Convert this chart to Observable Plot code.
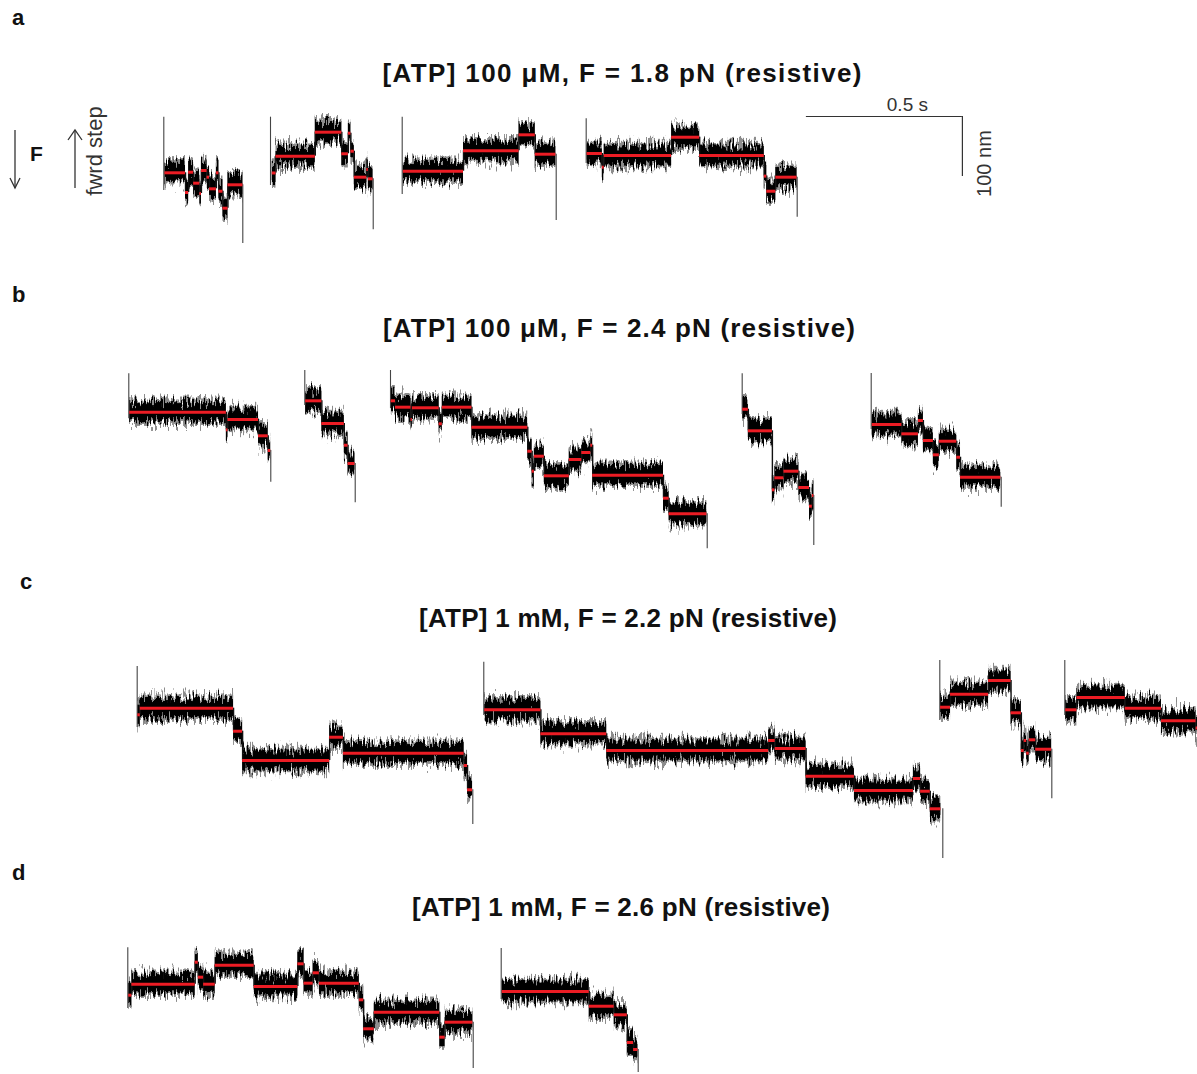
<!DOCTYPE html>
<html>
<head>
<meta charset="utf-8">
<script src="https://cdn.jsdelivr.net/npm/d3@7"></script>
<script src="https://cdn.jsdelivr.net/npm/@observablehq/plot@0.6"></script>
<style>
  body { margin: 0; background: #fff; }
  #fig { position: relative; width: 1197px; height: 1074px; overflow: hidden;
         font-family: "Liberation Sans", Arial, sans-serif; }
  .panel { position: absolute; left: 0; }
  #overlay { position: absolute; left: 0; top: 0; pointer-events: none; }
</style>
</head>
<body>
<!-- ragged-edge texture for the noise envelope of the traces -->
<svg width="0" height="0" style="position:absolute">
  <defs>
    <filter id="ragged" filterUnits="objectBoundingBox" x="-1%" y="-40%" width="102%" height="180%">
      <feTurbulence type="fractalNoise" baseFrequency="0.55 0.09" numOctaves="2" seed="7" result="tex"/>
      <feColorMatrix in="tex" type="matrix"
        values="1 0 0 0 0  0 0 0 0 0.5  0 0 0 0 0  0 0 0 0 1" result="shift"/>
      <feDisplacementMap in="SourceGraphic" in2="shift" scale="24"
        xChannelSelector="G" yChannelSelector="R"/>
    </filter>
  </defs>
</svg>
<div id="fig"></div>
<script>
// Optical-trap stepping records: fitted dwell levels [trace, t start (s), t end (s), position (nm)]
// Each panel shows several consecutive records placed side by side on a common time axis.

const stepsA = [
  [1, 0.527, 0.593, 129.5], [1, 0.593, 0.603, 96.7], [1, 0.603, 0.619, 130.5],
  [1, 0.619, 0.639, 112.2], [1, 0.639, 0.644, 95.0], [1, 0.644, 0.662, 133.3],
  [1, 0.662, 0.670, 122.2], [1, 0.670, 0.692, 102.8], [1, 0.692, 0.700, 129.5],
  [1, 0.700, 0.713, 98.8], [1, 0.713, 0.729, 70.5], [1, 0.729, 0.777, 109.5],
  [2, 0.871, 0.883, 129.2], [2, 0.883, 1.009, 157.2], [2, 1.009, 1.094, 197.2],
  [2, 1.094, 1.115, 161.2], [2, 1.115, 1.123, 195.5], [2, 1.123, 1.134, 165.5],
  [2, 1.134, 1.174, 122.2], [2, 1.174, 1.179, 135.0], [2, 1.179, 1.194, 119.5],
  [3, 1.291, 1.484, 132.2], [3, 1.484, 1.662, 166.2], [3, 1.662, 1.714, 192.8],
  [3, 1.714, 1.780, 160.5],
  [4, 1.880, 1.929, 161.7], [4, 1.929, 1.935, 138.8], [4, 1.935, 2.151, 158.3],
  [4, 2.151, 2.241, 188.8], [4, 2.241, 2.448, 158.3], [4, 2.448, 2.456, 124.0],
  [4, 2.456, 2.485, 98.8], [4, 2.485, 2.553, 122.2]
];
// Attachment / detachment excursions: [t (s), upper nm, lower nm]
const spikesA = [
  [0.5234, 222.2, 100.0], [0.7766, 109.5, 11.7],
  [0.8654, 222.2, 108.3], [1.1946, 119.5, 34.5],
  [1.2875, 222.2, 93.3], [1.7811, 160.5, 50.0],
  [1.8772, 219.5, 145.0], [2.5535, 122.2, 55.5]
];

const stepsB = [
  [1, 0.414, 0.724, 238.8], [1, 0.724, 0.729, 209.5], [1, 0.729, 0.827, 226.7],
  [1, 0.827, 0.858, 199.5], [1, 0.858, 0.866, 175.0],
  [2, 0.978, 1.030, 257.8], [2, 1.030, 1.102, 220.0], [2, 1.102, 1.114, 183.8],
  [2, 1.114, 1.136, 153.3],
  [3, 1.252, 1.266, 257.8], [3, 1.266, 1.316, 247.2], [3, 1.316, 1.320, 226.7],
  [3, 1.320, 1.406, 246.2], [3, 1.406, 1.416, 219.5], [3, 1.416, 1.511, 247.2],
  [3, 1.511, 1.690, 213.8], [3, 1.690, 1.704, 173.8], [3, 1.704, 1.711, 140.5],
  [3, 1.711, 1.743, 165.5], [3, 1.743, 1.823, 132.8], [3, 1.823, 1.863, 160.0],
  [3, 1.863, 1.892, 171.7], [3, 1.892, 1.898, 183.8], [3, 1.898, 2.125, 133.8],
  [3, 2.125, 2.143, 95.5], [3, 2.143, 2.264, 69.5],
  [4, 2.379, 2.397, 243.8], [4, 2.397, 2.474, 207.8], [4, 2.474, 2.482, 109.5],
  [4, 2.482, 2.511, 129.5], [4, 2.511, 2.559, 140.5], [4, 2.559, 2.593, 113.3],
  [4, 2.593, 2.602, 82.2], [4, 2.602, 2.607, 100.0],
  [5, 2.794, 2.889, 218.3], [5, 2.889, 2.942, 202.8], [5, 2.942, 2.958, 225.0],
  [5, 2.958, 2.990, 191.7], [5, 2.990, 3.009, 167.8], [5, 3.009, 3.065, 190.5],
  [5, 3.065, 3.077, 163.8], [5, 3.077, 3.206, 130.5]
];
const spikesB = [
  [0.4112, 302.8, 228.0], [0.8663, 175.0, 122.2],
  [0.9753, 308.3, 250.0], [1.1369, 153.3, 87.8],
  [1.2500, 308.3, 245.0], [2.2651, 69.5, 11.2],
  [2.3772, 302.8, 235.0], [2.6067, 100.0, 16.7],
  [2.7907, 303.3, 210.0], [3.2074, 130.5, 80.5]
];

const stepsC = [
  [1, 0.440, 0.448, 251.2], [1, 0.448, 0.747, 262.2], [1, 0.747, 0.776, 223.8],
  [1, 0.776, 1.055, 175.0], [1, 1.055, 1.099, 213.8], [1, 1.099, 1.486, 187.2],
  [1, 1.486, 1.497, 166.7], [1, 1.497, 1.513, 126.2],
  [2, 1.552, 1.732, 259.5], [2, 1.732, 1.943, 219.5], [2, 1.943, 2.462, 191.7],
  [2, 2.462, 2.483, 208.3], [2, 2.483, 2.582, 195.0], [2, 2.582, 2.737, 148.8],
  [2, 2.737, 2.926, 125.0], [2, 2.926, 2.949, 145.0], [2, 2.949, 2.980, 123.8],
  [2, 2.980, 3.014, 94.5],
  [3, 3.013, 3.045, 263.8], [3, 3.045, 3.167, 285.5], [3, 3.167, 3.239, 308.3],
  [3, 3.239, 3.272, 254.5], [3, 3.272, 3.281, 191.7], [3, 3.281, 3.289, 208.3],
  [3, 3.289, 3.297, 187.2], [3, 3.297, 3.318, 209.5], [3, 3.318, 3.369, 193.8],
  [4, 3.414, 3.450, 259.5], [4, 3.450, 3.605, 280.0], [4, 3.605, 3.721, 262.2],
  [4, 3.721, 3.832, 241.2], [4, 3.832, 3.860, 229.0]
];
const spikesC = [
  [0.4381, 331.7, 230.0], [1.5138, 126.2, 68.3],
  [1.5490, 338.8, 250.0], [3.0202, 94.5, 11.7],
  [3.0106, 341.7, 241.7], [3.3696, 193.8, 111.2],
  [3.4112, 341.7, 250.0]
];

const stepsD = [
  [1, 0.411, 0.421, 132.2], [1, 0.421, 0.624, 150.5], [1, 0.624, 0.634, 187.2],
  [1, 0.634, 0.651, 162.2], [1, 0.651, 0.688, 150.5], [1, 0.688, 0.813, 182.2],
  [1, 0.813, 0.953, 146.7], [1, 0.953, 0.973, 184.5], [1, 0.973, 1.002, 152.2],
  [1, 1.002, 1.022, 169.5], [1, 1.022, 1.150, 152.2], [1, 1.150, 1.164, 124.5],
  [1, 1.164, 1.198, 76.2], [1, 1.198, 1.408, 103.8], [1, 1.408, 1.425, 62.2],
  [1, 1.425, 1.514, 87.2],
  [2, 1.608, 1.887, 138.3], [2, 1.887, 1.967, 113.8], [2, 1.967, 2.009, 99.5],
  [2, 2.009, 2.029, 53.3], [2, 2.029, 2.043, 41.7]
];
const spikesD = [
  [0.4080, 211.2, 110.0], [1.5151, 87.2, 10.0],
  [1.6048, 210.0, 125.0], [2.0439, 41.7, 3.3]
];

// Thermal noise envelope around each dwell (nm): dense core, outer fringe
const noiseNm = [16, 22];

// Scale bar: corner time (s), corner position (nm), lengths
const scaleBar = [{t: 3.083, nm: 223.3, dt: 0.5, dnm: 100}];

const titles = [
  "[ATP] 100 \u03bcM, F = 1.8 pN (resistive)",
  "[ATP] 100 \u03bcM, F = 2.4 pN (resistive)",
  "[ATP] 1 mM, F = 2.2 pN (resistive)",
  "[ATP] 1 mM, F = 2.6 pN (resistive)"
];
const letters = ["a", "b", "c", "d"];

// ---- layout ----
const W = 1197;
const PX_PER_S = 312;   // horizontal: 0.5 s = 156 px
const PX_PER_NM = 0.6;  // vertical: 100 nm = 60 px
const FONT = '"Liberation Sans", Arial, sans-serif';
const RED = "#ec1c24";

const panels = [
  {steps: stepsA, spikes: spikesA, top: 100, height: 150, bar: true},
  {steps: stepsB, spikes: spikesB, top: 360, height: 195},
  {steps: stepsC, spikes: spikesC, top: 650, height: 215},
  {steps: stepsD, spikes: spikesD, top: 935, height: 139}
];

const fig = document.getElementById("fig");

function connectors(steps) {
  const out = [];
  for (let i = 0; i + 1 < steps.length; i++) {
    const a = steps[i], b = steps[i + 1];
    if (a[0] === b[0]) out.push([a[2], a[3], b[3]]);
  }
  return out;
}

for (const p of panels) {
  const band = (n, op) => Plot.rect(p.steps, {
    x1: d => d[1], x2: d => d[2],
    y1: d => d[3] - n, y2: d => d[3] + n,
    fill: "#000", fillOpacity: op, clip: true
  });
  const marks = [
    band(noiseNm[1], 0.45),
    band(noiseNm[0], 1),
    Plot.ruleX(connectors(p.steps), {x: d => d[0], y1: d => d[1], y2: d => d[2],
      stroke: "#111", strokeWidth: 1.4, clip: true}),
    Plot.ruleX(p.spikes, {x: d => d[0], y1: d => d[1], y2: d => d[2],
      stroke: "#444", strokeWidth: 1.1, clip: true}),
    Plot.ruleY(p.steps, {y: d => d[3], x1: d => d[1], x2: d => d[2],
      stroke: RED, strokeWidth: 3, clip: true})
  ];
  if (p.bar) {
    marks.push(
      Plot.ruleY(scaleBar, {y: "nm", x1: d => d.t - d.dt, x2: "t", stroke: "#333", strokeWidth: 1.2}),
      Plot.ruleX(scaleBar, {x: "t", y1: "nm", y2: d => d.nm - d.dnm, stroke: "#333", strokeWidth: 1.2}),
      Plot.text(scaleBar, {x: d => d.t - d.dt / 2, y: "nm", text: d => `${d.dt} s`,
        dx: 23, dy: -6, lineAnchor: "bottom", fontSize: 19, fill: "#333"}),
      Plot.text(scaleBar, {x: "t", y: d => d.nm - d.dnm / 2, text: d => `${d.dnm} nm`,
        dx: 29, dy: 17, rotate: -90, lineAnchor: "bottom", fontSize: 20, fill: "#333"})
    );
  }
  const svg = Plot.plot({
    width: W, height: p.height, margin: 0,
    x: {domain: [0, W / PX_PER_S], axis: null},
    y: {domain: [0, p.height / PX_PER_NM], axis: null},
    style: {fontFamily: FONT, background: "transparent", overflow: "visible"},
    marks
  });
  // give the noise envelope its ragged, spiky edge
  svg.querySelectorAll('g[aria-label="rect"]').forEach(g => g.setAttribute("filter", "url(#ragged)"));
  svg.classList.add("panel");
  svg.style.top = p.top + "px";
  fig.appendChild(svg);
}

// ---- titles, panel letters and direction key ----
const ns = "http://www.w3.org/2000/svg";
const ov = document.createElementNS(ns, "svg");
ov.setAttribute("id", "overlay");
ov.setAttribute("width", W);
ov.setAttribute("height", 1074);
ov.setAttribute("font-family", FONT);
fig.appendChild(ov);

function el(tag, attrs, text) {
  const e = document.createElementNS(ns, tag);
  for (const k in attrs) e.setAttribute(k, attrs[k]);
  if (text != null) e.textContent = text;
  ov.appendChild(e);
  return e;
}

// [centre x, baseline y, set width]
const titlePos = [[622, 82, 479], [619, 337, 472], [628, 627, 418], [621, 916, 418]];
const letterPos = [[12, 25], [12, 302], [20, 589], [12, 880]];
titles.forEach((t, i) => el("text", {x: titlePos[i][0], y: titlePos[i][1], "text-anchor": "middle",
  "font-size": 26, "font-weight": "bold", fill: "#111",
  textLength: titlePos[i][2], lengthAdjust: "spacing"}, t));
letters.forEach((t, i) => el("text", {x: letterPos[i][0], y: letterPos[i][1],
  "font-size": 22, "font-weight": "bold", fill: "#111"}, t));

// load direction
el("line", {x1: 15, y1: 130, x2: 15, y2: 188, stroke: "#333", "stroke-width": 1.3});
el("polyline", {points: "10,178 15,188 20,178", fill: "none", stroke: "#333", "stroke-width": 1.3});
el("text", {x: 30, y: 161, "font-size": 21, "font-weight": "bold", fill: "#111"}, "F");
// stepping direction
el("line", {x1: 75, y1: 188, x2: 75, y2: 130, stroke: "#333", "stroke-width": 1.3});
el("polyline", {points: "68,140 75,130 82,140", fill: "none", stroke: "#333", "stroke-width": 1.3});
el("text", {x: 102, y: 151, "font-size": 22, fill: "#333", "text-anchor": "middle",
  transform: "rotate(-90 102 151)"}, "fwrd step");
</script>
</body>
</html>
